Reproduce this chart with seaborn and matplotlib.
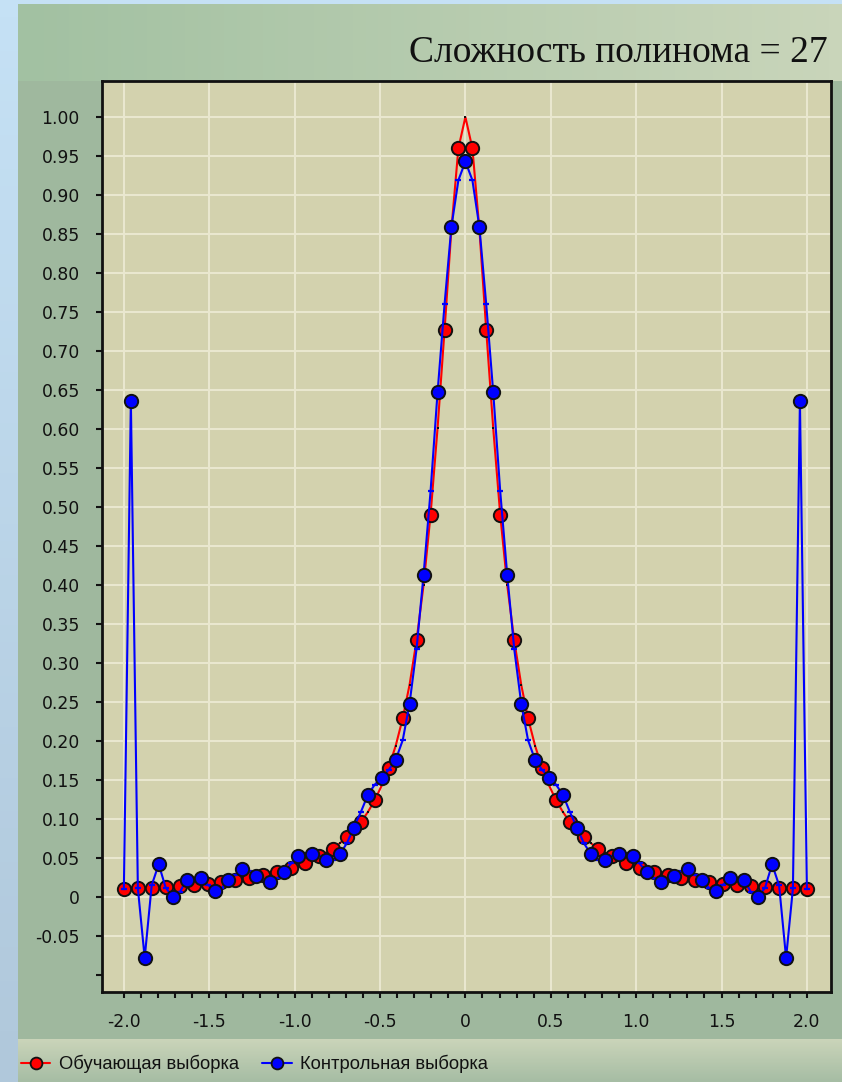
import numpy as np
import pandas as pd
import matplotlib
matplotlib.use("Agg")
import matplotlib.pyplot as plt
import seaborn as sns
from matplotlib.ticker import FixedLocator, FixedFormatter
from matplotlib.lines import Line2D
from matplotlib.colors import to_rgb

TITLE = "Сложность полинома = 27"
TRAIN_LABEL = "Обучающая выборка"
TEST_LABEL = "Контрольная выборка"

# training sample: nodes and target values
x_train = [-2.000, -1.918, -1.837, -1.755, -1.673, -1.592, -1.510, -1.429, -1.347, -1.265,
           -1.184, -1.102, -1.020, -0.939, -0.857, -0.776, -0.694, -0.612, -0.531, -0.449,
           -0.367, -0.286, -0.204, -0.122, -0.041,
           0.041, 0.122, 0.204, 0.286, 0.367, 0.449, 0.531, 0.612, 0.694, 0.776,
           0.857, 0.939, 1.020, 1.102, 1.184, 1.265, 1.347, 1.429, 1.510, 1.592,
           1.673, 1.755, 1.837, 1.918, 2.000]
y_train = [0.010, 0.011, 0.012, 0.013, 0.014, 0.016, 0.017, 0.019, 0.022, 0.024,
           0.028, 0.032, 0.037, 0.043, 0.052, 0.062, 0.077, 0.096, 0.124, 0.166,
           0.229, 0.329, 0.490, 0.727, 0.960,
           0.960, 0.727, 0.490, 0.329, 0.229, 0.166, 0.124, 0.096, 0.077, 0.062,
           0.052, 0.043, 0.037, 0.032, 0.028, 0.024, 0.022, 0.019, 0.017, 0.016,
           0.014, 0.013, 0.012, 0.011, 0.010]
# polynomial values at the training nodes
y_fit_train = [0.010, 0.011, 0.015, 0.012, 0.006, 0.020, 0.016, 0.011, 0.028, 0.033,
               0.022, 0.024, 0.043, 0.056, 0.052, 0.048, 0.069, 0.109, 0.144, 0.163,
               0.201, 0.318, 0.520, 0.760, 0.919,
               0.919, 0.760, 0.520, 0.318, 0.201, 0.163, 0.144, 0.109, 0.069, 0.048,
               0.052, 0.056, 0.043, 0.024, 0.022, 0.033, 0.028, 0.011, 0.016, 0.020,
               0.006, 0.012, 0.015, 0.011, 0.010]

# control sample: nodes, target values and polynomial values
x_test = [-1.959, -1.878, -1.796, -1.714, -1.633, -1.551, -1.469, -1.388, -1.306, -1.224,
          -1.143, -1.061, -0.980, -0.898, -0.816, -0.735, -0.653, -0.571, -0.490, -0.408,
          -0.327, -0.245, -0.163, -0.082, 0.000,
          0.082, 0.163, 0.245, 0.327, 0.408, 0.490, 0.571, 0.653, 0.735, 0.816,
          0.898, 0.980, 1.061, 1.143, 1.224, 1.306, 1.388, 1.469, 1.551, 1.633,
          1.714, 1.796, 1.878, 1.959]
y_true_test = [0.010, 0.011, 0.012, 0.013, 0.015, 0.016, 0.018, 0.020, 0.023, 0.026,
               0.030, 0.034, 0.040, 0.047, 0.057, 0.069, 0.086, 0.109, 0.143, 0.194,
               0.272, 0.400, 0.601, 0.856, 1.000,
               0.856, 0.601, 0.400, 0.272, 0.194, 0.143, 0.109, 0.086, 0.069, 0.057,
               0.047, 0.040, 0.034, 0.030, 0.026, 0.023, 0.020, 0.018, 0.016, 0.015,
               0.013, 0.012, 0.011, 0.010]
y_test = [0.636, -0.078, 0.042, 0.000, 0.022, 0.025, 0.008, 0.022, 0.036, 0.027,
          0.019, 0.032, 0.053, 0.055, 0.047, 0.055, 0.089, 0.131, 0.153, 0.176,
          0.248, 0.413, 0.647, 0.859, 0.943,
          0.859, 0.647, 0.413, 0.248, 0.176, 0.153, 0.131, 0.089, 0.055, 0.047,
          0.055, 0.053, 0.032, 0.019, 0.027, 0.036, 0.022, 0.008, 0.025, 0.022,
          0.000, 0.042, -0.078, 0.636]

x_ticks = [-2.0, -1.5, -1.0, -0.5, 0.0, 0.5, 1.0, 1.5, 2.0]
x_tick_labels = ["-2.0", "-1.5", "-1.0", "-0.5", "0", "0.5", "1.0", "1.5", "2.0"]
x_minor = [-1.9, -1.8, -1.7, -1.6, -1.4, -1.3, -1.2, -1.1, -0.9, -0.8, -0.7, -0.6,
           -0.4, -0.3, -0.2, -0.1, 0.1, 0.2, 0.3, 0.4, 0.6, 0.7, 0.8, 0.9,
           1.1, 1.2, 1.3, 1.4, 1.6, 1.7, 1.8, 1.9]
y_ticks = [-0.05, 0.0, 0.05, 0.10, 0.15, 0.20, 0.25, 0.30, 0.35, 0.40, 0.45,
           0.50, 0.55, 0.60, 0.65, 0.70, 0.75, 0.80, 0.85, 0.90, 0.95, 1.00]
y_tick_labels = ["-0.05", "0", "0.05", "0.10", "0.15", "0.20", "0.25", "0.30", "0.35",
                 "0.40", "0.45", "0.50", "0.55", "0.60", "0.65", "0.70", "0.75", "0.80",
                 "0.85", "0.90", "0.95", "1.00"]
y_minor = [-0.10]

RED = "#ff0000"
BLUE = "#0000ff"
PLOT_BG = "#d3d2ae"
GRID = "#e9e7cf"
PANEL = "#9fb89e"
INK = "#111111"

sns.set_theme(style="white")
plt.rcParams["font.family"] = ["DejaVu Sans"]

W, H = 842, 1082
fig = plt.figure(figsize=(W / 100, H / 100), dpi=100)


def gradient(c0, c1, n, horizontal):
    a, b = np.array(to_rgb(c0)), np.array(to_rgb(c1))
    t = np.linspace(0, 1, n)[:, None]
    g = a + (b - a) * t
    if horizontal:
        return g[None, :, :]
    return g[:, None, :]


# page background and panels, in pixel coordinates
bg = fig.add_axes([0, 0, 1, 1], zorder=-10)
bg.axis("off")
bg.imshow(gradient("#c5e1f5", "#b0c8db", 64, False), extent=(0, W, H, 0), aspect="auto")
bg.imshow(gradient("#a2c1a2", "#c9d5ba", 64, True), extent=(18, W, 81, 4), aspect="auto")
bg.imshow(np.array([[to_rgb(PANEL)]]), extent=(18, W, 1039, 81), aspect="auto")
bg.imshow(gradient("#cad4b9", "#a6bda4", 32, False), extent=(18, W, H, 1039), aspect="auto")
bg.set_xlim(0, W)
bg.set_ylim(H, 0)

fig.text(828 / W, 1 - 62 / H, TITLE, ha="right", va="baseline",
         fontsize=27, family=["Liberation Serif", "DejaVu Serif"], color=INK)

# main chart
ax = fig.add_axes([102 / W, 1 - 992 / H, (831 - 102) / W, (992 - 81) / H])
ax.set_facecolor(PLOT_BG)

red_line = pd.DataFrame({"x": x_train + x_test, "y": y_train + y_true_test})
blue_line = pd.DataFrame({"x": x_test + x_train, "y": y_test + y_fit_train})

sns.lineplot(data=red_line, x="x", y="y", sort=True, estimator=None,
             color=RED, lw=1.5, ax=ax, zorder=3)
ax.scatter(x_test, y_true_test, marker="s", s=4, color=INK, linewidths=0, zorder=3.5)
sns.scatterplot(x=x_train, y=y_train, s=92, color=RED, edgecolor=INK,
                linewidth=1.4, ax=ax, zorder=4)

sns.lineplot(data=blue_line, x="x", y="y", sort=True, estimator=None,
             color=BLUE, lw=1.5, ax=ax, zorder=5)
ax.scatter(x_train, y_fit_train, marker="_", s=14, color=BLUE, linewidths=1.6, zorder=5.5)
sns.scatterplot(x=x_test, y=y_test, s=92, color=BLUE, edgecolor=INK,
                linewidth=1.4, ax=ax, zorder=6)

ax.set_xlim(-2.128, 2.141)
ax.set_ylim(-0.1218, 1.0462)
ax.set_xlabel("")
ax.set_ylabel("")

ax.xaxis.set_major_locator(FixedLocator(x_ticks))
ax.xaxis.set_major_formatter(FixedFormatter(x_tick_labels))
ax.xaxis.set_minor_locator(FixedLocator(x_minor))
ax.yaxis.set_major_locator(FixedLocator(y_ticks))
ax.yaxis.set_major_formatter(FixedFormatter(y_tick_labels))
ax.yaxis.set_minor_locator(FixedLocator(y_minor))

ax.grid(True, which="major", color=GRID, lw=1.5, zorder=0)
ax.set_axisbelow(True)
ax.tick_params(axis="both", which="both", direction="out", length=4.5, width=1.5,
               color=INK, labelsize=12.4, labelcolor=INK,
               bottom=True, left=True, top=False, right=False)
ax.tick_params(axis="y", which="major", pad=11.5)
ax.tick_params(axis="x", which="major", pad=10.5)
ax.tick_params(axis="both", which="minor", labelleft=False, labelbottom=False)
for side in ["left", "bottom", "top", "right"]:
    ax.spines[side].set_visible(True)
    ax.spines[side].set_color(INK)
    ax.spines[side].set_linewidth(2.0)

handles = [
    Line2D([], [], color=RED, lw=1.5, marker="o", markersize=8.5,
           markerfacecolor=RED, markeredgecolor=INK, markeredgewidth=1.3),
    Line2D([], [], color=BLUE, lw=1.5, marker="o", markersize=8.5,
           markerfacecolor=BLUE, markeredgecolor=INK, markeredgewidth=1.3),
]
fig.legend(handles, [TRAIN_LABEL, TEST_LABEL], loc="center left",
           bbox_to_anchor=(21 / W, 1 - 1064 / H), ncol=2, frameon=False,
           handlelength=1.6, handletextpad=0.45, columnspacing=1.3,
           borderpad=0, borderaxespad=0,
           prop={"family": ["Liberation Sans"], "size": 13.2})
for t in fig.legends[0].get_texts():
    t.set_color(INK)

fig.savefig("out.png", dpi=100)
